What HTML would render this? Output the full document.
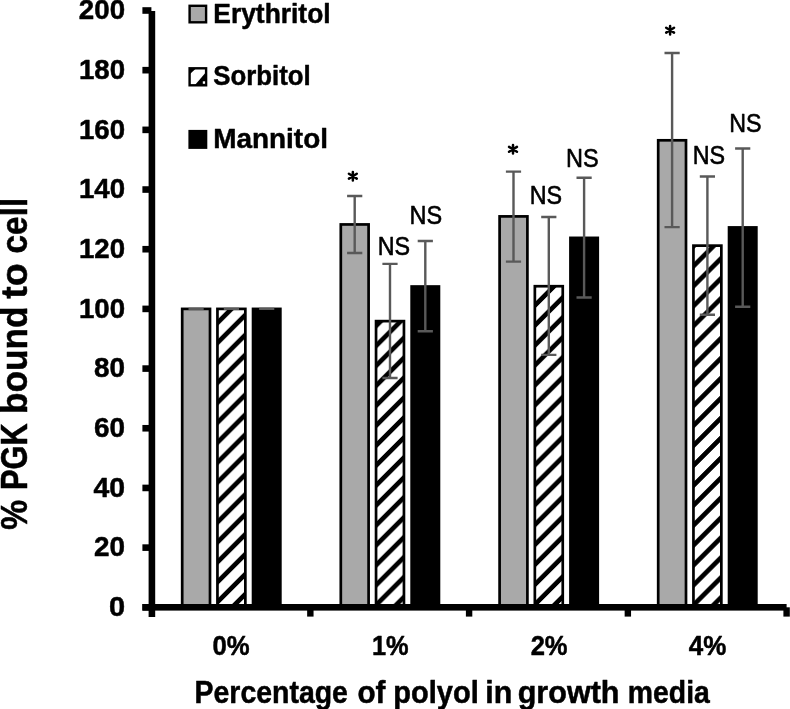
<!DOCTYPE html>
<html><head><meta charset="utf-8"><title>Chart</title>
<style>
html,body{margin:0;padding:0;background:#fff;}
body{width:790px;height:709px;overflow:hidden;font-family:"Liberation Sans",sans-serif;}
svg{display:block;font-family:"Liberation Sans",sans-serif;}
text{fill:#000;stroke:#000;stroke-linejoin:round;}
svg{filter:grayscale(1);}
</style></head><body>
<svg width="790" height="709" viewBox="0 0 790 709">
<rect width="790" height="709" fill="#fff"/>
<defs><pattern id="h0" patternUnits="userSpaceOnUse" width="50" height="19.94" patternTransform="skewY(-45)"><rect x="0" y="0" width="50" height="19.94" fill="#fff"/><rect x="0" y="18.60" width="50" height="6.6" fill="#000"/><rect x="0" y="-1.34" width="50" height="6.6" fill="#000"/></pattern><pattern id="h1" patternUnits="userSpaceOnUse" width="50" height="19.94" patternTransform="skewY(-45)"><rect x="0" y="0" width="50" height="19.94" fill="#fff"/><rect x="0" y="0.76" width="50" height="6.6" fill="#000"/><rect x="0" y="-19.18" width="50" height="6.6" fill="#000"/></pattern><pattern id="h2" patternUnits="userSpaceOnUse" width="50" height="19.94" patternTransform="skewY(-45)"><rect x="0" y="0" width="50" height="19.94" fill="#fff"/><rect x="0" y="19.50" width="50" height="6.6" fill="#000"/><rect x="0" y="-0.44" width="50" height="6.6" fill="#000"/></pattern><pattern id="h3" patternUnits="userSpaceOnUse" width="50" height="19.94" patternTransform="skewY(-45)"><rect x="0" y="0" width="50" height="19.94" fill="#fff"/><rect x="0" y="19.10" width="50" height="6.6" fill="#000"/><rect x="0" y="-0.84" width="50" height="6.6" fill="#000"/></pattern></defs>
<rect x="182.20" y="308.90" width="27.80" height="298.40" fill="#a9a9a9" stroke="#000" stroke-width="2.7"/>
<rect x="217.45" y="308.90" width="27.90" height="298.40" fill="url(#h0)" stroke="#000" stroke-width="2.7"/>
<rect x="253.05" y="308.90" width="27.30" height="298.40" fill="#000" stroke="#000" stroke-width="2.7"/>
<rect x="340.80" y="224.45" width="27.80" height="382.85" fill="#a9a9a9" stroke="#000" stroke-width="2.7"/>
<rect x="376.05" y="321.13" width="27.90" height="286.17" fill="url(#h1)" stroke="#000" stroke-width="2.7"/>
<rect x="411.65" y="286.52" width="27.30" height="320.78" fill="#000" stroke="#000" stroke-width="2.7"/>
<rect x="499.60" y="216.40" width="27.80" height="390.90" fill="#a9a9a9" stroke="#000" stroke-width="2.7"/>
<rect x="534.85" y="286.22" width="27.90" height="321.08" fill="url(#h2)" stroke="#000" stroke-width="2.7"/>
<rect x="570.45" y="237.88" width="27.30" height="369.42" fill="#000" stroke="#000" stroke-width="2.7"/>
<rect x="658.20" y="140.30" width="27.80" height="467.00" fill="#a9a9a9" stroke="#000" stroke-width="2.7"/>
<rect x="693.45" y="245.64" width="27.90" height="361.66" fill="url(#h3)" stroke="#000" stroke-width="2.7"/>
<rect x="729.05" y="227.44" width="27.30" height="379.86" fill="#000" stroke="#000" stroke-width="2.7"/>
<path d="M196.10 308.90V308.90M188.50 308.90H203.70M188.50 308.90H203.70" stroke="#595959" stroke-width="2.4" fill="none"/>
<path d="M231.40 308.90V308.90M223.80 308.90H239.00M223.80 308.90H239.00" stroke="#595959" stroke-width="2.4" fill="none"/>
<path d="M266.70 308.90V308.90M259.10 308.90H274.30M259.10 308.90H274.30" stroke="#595959" stroke-width="2.4" fill="none"/>
<path d="M354.70 196.00V253.00M347.10 196.00H362.30M347.10 253.00H362.30" stroke="#595959" stroke-width="2.4" fill="none"/>
<path d="M390.00 263.90V378.00M382.40 263.90H397.60M382.40 378.00H397.60" stroke="#595959" stroke-width="2.4" fill="none"/>
<path d="M425.30 241.00V331.20M417.70 241.00H432.90M417.70 331.20H432.90" stroke="#595959" stroke-width="2.4" fill="none"/>
<path d="M513.50 171.60V261.60M505.90 171.60H521.10M505.90 261.60H521.10" stroke="#595959" stroke-width="2.4" fill="none"/>
<path d="M548.80 217.00V354.90M541.20 217.00H556.40M541.20 354.90H556.40" stroke="#595959" stroke-width="2.4" fill="none"/>
<path d="M584.10 177.70V297.50M576.50 177.70H591.70M576.50 297.50H591.70" stroke="#595959" stroke-width="2.4" fill="none"/>
<path d="M672.10 53.00V227.10M664.50 53.00H679.70M664.50 227.10H679.70" stroke="#595959" stroke-width="2.4" fill="none"/>
<path d="M707.40 176.50V314.80M699.80 176.50H715.00M699.80 314.80H715.00" stroke="#595959" stroke-width="2.4" fill="none"/>
<path d="M742.70 148.50V306.70M735.10 148.50H750.30M735.10 306.70H750.30" stroke="#595959" stroke-width="2.4" fill="none"/>
<rect x="148.60" y="11" width="6.6" height="606" fill="#000"/>
<rect x="142.4" y="604.00" width="644.20" height="6.6" fill="#000"/>
<rect x="142.4" y="604.00" width="9" height="6.6" fill="#000"/>
<rect x="142.4" y="544.32" width="9" height="6.6" fill="#000"/>
<rect x="142.4" y="484.64" width="9" height="6.6" fill="#000"/>
<rect x="142.4" y="424.96" width="9" height="6.6" fill="#000"/>
<rect x="142.4" y="365.28" width="9" height="6.6" fill="#000"/>
<rect x="142.4" y="305.60" width="9" height="6.6" fill="#000"/>
<rect x="142.4" y="245.92" width="9" height="6.6" fill="#000"/>
<rect x="142.4" y="186.24" width="9" height="6.6" fill="#000"/>
<rect x="142.4" y="126.56" width="9" height="6.6" fill="#000"/>
<rect x="142.4" y="66.88" width="9" height="6.6" fill="#000"/>
<rect x="142.4" y="7.20" width="9" height="6.6" fill="#000"/>
<rect x="307.15" y="607.30" width="6.4" height="9.30" fill="#000"/>
<rect x="465.90" y="607.30" width="6.4" height="9.30" fill="#000"/>
<rect x="624.65" y="607.30" width="6.4" height="9.30" fill="#000"/>
<rect x="783.40" y="607.30" width="6.4" height="9.30" fill="#000"/>
<text transform="translate(109.03,616.10) scale(1.0331,1)" font-size="28.05" font-weight="700" stroke-width="0.5">0</text>
<text transform="translate(94.06,556.42) scale(0.9950,1)" font-size="28.05" font-weight="700" stroke-width="0.5">20</text>
<text transform="translate(93.52,496.74) scale(1.0131,1)" font-size="28.05" font-weight="700" stroke-width="0.5">40</text>
<text transform="translate(94.06,437.06) scale(0.9950,1)" font-size="28.05" font-weight="700" stroke-width="0.5">60</text>
<text transform="translate(94.06,377.38) scale(0.9950,1)" font-size="28.05" font-weight="700" stroke-width="0.5">80</text>
<text transform="translate(78.94,317.70) scale(0.9862,1)" font-size="28.05" font-weight="700" stroke-width="0.5">100</text>
<text transform="translate(78.94,258.02) scale(0.9862,1)" font-size="28.05" font-weight="700" stroke-width="0.5">120</text>
<text transform="translate(78.94,198.34) scale(0.9862,1)" font-size="28.05" font-weight="700" stroke-width="0.5">140</text>
<text transform="translate(78.94,138.66) scale(0.9862,1)" font-size="28.05" font-weight="700" stroke-width="0.5">160</text>
<text transform="translate(78.94,78.98) scale(0.9862,1)" font-size="28.05" font-weight="700" stroke-width="0.5">180</text>
<text transform="translate(78.87,19.30) scale(0.9878,1)" font-size="28.05" font-weight="700" stroke-width="0.5">200</text>
<text transform="translate(212.53,654.90) scale(0.9166,1)" font-size="28.05" font-weight="700" stroke-width="0.5">0%</text>
<text transform="translate(371.98,654.90) scale(0.9054,1)" font-size="28.05" font-weight="700" stroke-width="0.5">1%</text>
<text transform="translate(530.63,654.90) scale(0.9115,1)" font-size="28.05" font-weight="700" stroke-width="0.5">2%</text>
<text transform="translate(688.84,654.90) scale(0.9263,1)" font-size="28.05" font-weight="700" stroke-width="0.5">4%</text>
<text transform="translate(194.59,703.00) scale(0.9187,1)" font-size="30.96" font-weight="700" stroke-width="0.5">Percentage</text>
<text transform="translate(357.51,703.00) scale(0.9576,1)" font-size="30.96" font-weight="700" stroke-width="0.5">of</text>
<text transform="translate(393.26,703.00) scale(0.9381,1)" font-size="30.96" font-weight="700" stroke-width="0.5">polyol</text>
<text transform="translate(485.28,703.00) scale(0.9802,1)" font-size="30.96" font-weight="700" stroke-width="0.5">in</text>
<text transform="translate(517.68,703.00) scale(0.9865,1)" font-size="30.96" font-weight="700" stroke-width="0.5">growth</text>
<text transform="translate(627.80,703.00) scale(0.9165,1)" font-size="30.96" font-weight="700" stroke-width="0.5">media</text>
<text transform="translate(27.1,0) rotate(-90) translate(-529.77,0.00) scale(0.9046,1)" font-size="37.06" font-weight="700" stroke-width="0.5">%</text>
<text transform="translate(27.1,0) rotate(-90) translate(-489.94,0.00) scale(0.8293,1)" font-size="37.06" font-weight="700" stroke-width="0.5">PGK</text>
<text transform="translate(27.1,0) rotate(-90) translate(-414.12,0.00) scale(0.9520,1)" font-size="37.06" font-weight="700" stroke-width="0.5">bound</text>
<text transform="translate(27.1,0) rotate(-90) translate(-298.68,0.00) scale(1.0159,1)" font-size="37.06" font-weight="700" stroke-width="0.5">to</text>
<text transform="translate(27.1,0) rotate(-90) translate(-253.40,0.00) scale(0.8987,1)" font-size="37.06" font-weight="700" stroke-width="0.5">cell</text>
<rect x="189.6" y="5.8" width="16.5" height="16.5" fill="#a9a9a9" stroke="#000" stroke-width="2.4"/>
<text transform="translate(213.32,22.60) scale(0.9365,1)" font-size="28.20" font-weight="700" stroke-width="0.5">Erythritol</text>
<rect x="189.6" y="68.3" width="16.5" height="17.0" fill="#fff" stroke="#000" stroke-width="2.4"/>
<path d="M190 69 L195.4 69 L190 74 Z" fill="#000"/>
<path d="M195 85 L205.5 72.8 L205.5 85 Z" fill="#000"/>
<rect x="202.8" y="81.3" width="2.3" height="2.5" fill="#fff"/>
<text transform="translate(213.28,85.10) scale(0.9151,1)" font-size="28.20" font-weight="700" stroke-width="0.5">Sorbitol</text>
<rect x="188.4" y="129.9" width="18.9" height="19" fill="#000"/>
<text transform="translate(213.22,148.00) scale(0.9902,1)" font-size="28.20" font-weight="700" stroke-width="0.5">Mannitol</text>
<text transform="translate(377.73,254.70) scale(0.8777,1)" font-size="26.60" font-weight="400" stroke-width="0.6">NS</text>
<text transform="translate(409.62,223.90) scale(0.8836,1)" font-size="26.60" font-weight="400" stroke-width="0.6">NS</text>
<text transform="translate(529.73,203.60) scale(0.8777,1)" font-size="26.60" font-weight="400" stroke-width="0.6">NS</text>
<text transform="translate(566.12,166.50) scale(0.8836,1)" font-size="26.60" font-weight="400" stroke-width="0.6">NS</text>
<text transform="translate(692.73,164.00) scale(0.8777,1)" font-size="26.60" font-weight="400" stroke-width="0.6">NS</text>
<text transform="translate(729.24,131.50) scale(0.8748,1)" font-size="26.60" font-weight="400" stroke-width="0.6">NS</text>
<path d="M352.85 171.95L352.85 180.45M348.91 173.74L356.79 178.66M356.79 173.74L348.91 178.66" stroke="#000" stroke-width="2.5" stroke-linecap="round" fill="none"/>
<path d="M513.00 145.05L513.00 153.55M509.06 146.84L516.94 151.76M516.94 146.84L509.06 151.76" stroke="#000" stroke-width="2.5" stroke-linecap="round" fill="none"/>
<path d="M670.10 25.95L670.10 34.45M666.16 27.74L674.04 32.66M674.04 27.74L666.16 32.66" stroke="#000" stroke-width="2.5" stroke-linecap="round" fill="none"/>
</svg>
</body></html>
